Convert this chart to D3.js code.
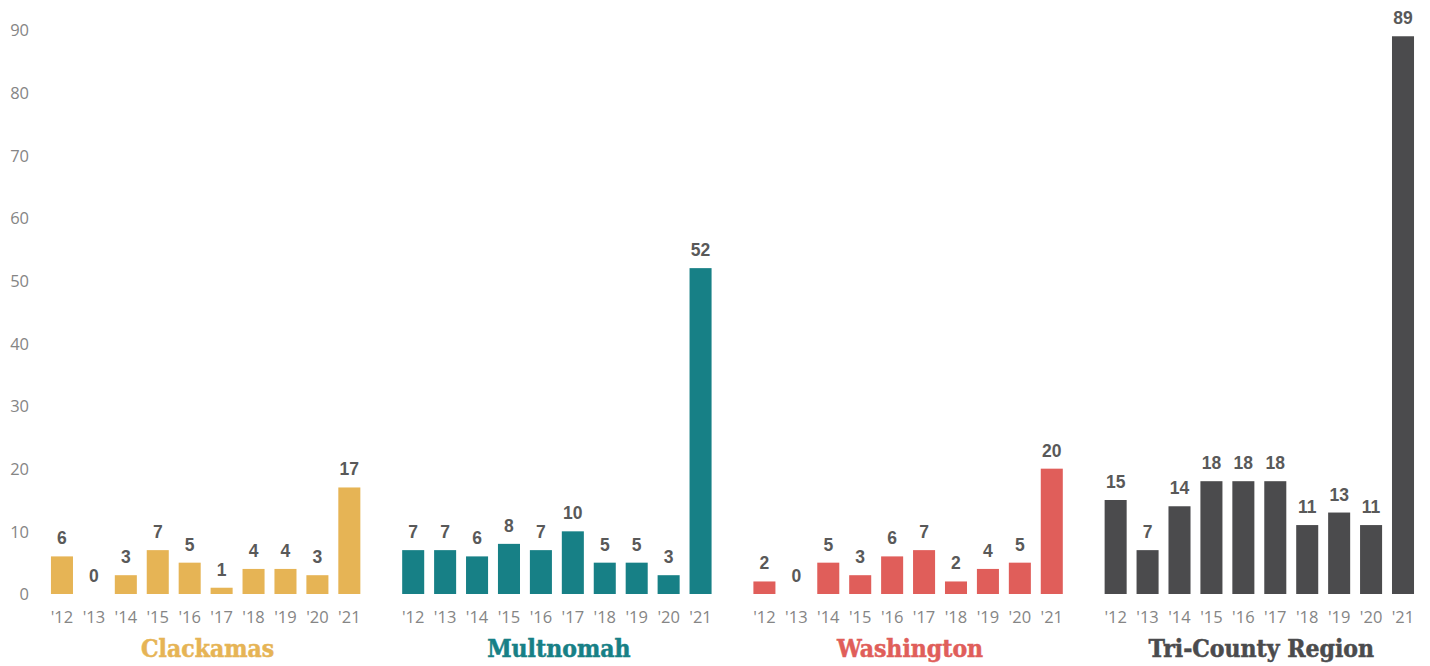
<!DOCTYPE html>
<html><head><meta charset="utf-8">
<script src="https://cdn.jsdelivr.net/npm/d3@7"></script>
<style>body{margin:0;background:#fff}svg{display:block}</style>
</head><body><svg id="c" width="1430" height="666"></svg>
<script>
const groups = ["Clackamas", "Multnomah", "Washington", "Tri-County Region"];
const years = ["'12","'13","'14","'15","'16","'17","'18","'19","'20","'21"];
const clackamas = [6,0,3,7,5,1,4,4,3,17];
const multnomah = [7,7,6,8,7,10,5,5,3,52];
const washington = [2,0,5,3,6,7,2,4,5,20];
const triCounty = [15,7,14,18,18,18,11,13,11,89];
const yTicks = [0,10,20,30,40,50,60,70,80,90];
const colors = ["#E6B455", "#178086", "#E05E5A", "#4B4B4D"];
const seriesValues = [clackamas, multnomah, washington, triCounty];

const svg = d3.select("#c");
const y = d3.scaleLinear().domain([0,90]).range([594,30]);
const gx = d3.scaleBand().domain(groups).range([46, 1450.9]).paddingInner(0).paddingOuter(0);
const ix = d3.scaleBand().domain(years).range([0, gx.bandwidth()*10/11]).paddingInner(0.31).paddingOuter(0.155);

// y axis
const yAxis = d3.axisLeft(y).tickValues(yTicks).tickSize(0).tickPadding(0);
const ya = svg.append("g").attr("transform","translate(29,0)").call(yAxis);
ya.select(".domain").remove();
ya.selectAll("text").attr("fill","#858585").attr("dy","0.36em").style("font-family","'Open Sans'").style("font-size","16.5px");

groups.forEach((g,gi)=>{
  const vals = seriesValues[gi];
  const grp = svg.append("g").attr("transform",`translate(${gx(g)},0)`);
  const data = years.map((yr,i)=>({yr, v: vals[i]}));
  grp.selectAll("rect").data(data).join("rect")
    .attr("x", d=>ix(d.yr)).attr("width", ix.bandwidth())
    .attr("y", d=>y(d.v)).attr("height", d=>y(0)-y(d.v))
    .attr("fill", colors[gi]);
  grp.selectAll("text.lbl").data(data).join("text").attr("class","lbl")
    .attr("x", d=>ix(d.yr)+ix.bandwidth()/2).attr("y", d=>y(d.v)-12)
    .attr("text-anchor","middle")
    .attr("fill","#595959")
    .style("font-family","'Liberation Sans', Arial, sans-serif").style("font-weight","bold").style("font-size","17.5px")
    .text(d=>d.v);
  const xa = grp.append("g").attr("transform","translate(0,611)").call(d3.axisBottom(ix).tickSize(0).tickPadding(0));
  xa.select(".domain").remove();
  xa.selectAll("text").attr("fill","#858585").attr("dy","0.72em").style("font-family","'Open Sans'").style("font-size","16.5px");
  grp.append("text")
    .attr("x", ix(years[0]) + (ix(years[9])+ix.bandwidth()-ix(years[0]))/2 + 2)
    .attr("y", 657)
    .attr("text-anchor","middle")
    .attr("fill", colors[gi])
    .attr("stroke", colors[gi]).attr("stroke-width", 0.5)
    .style("font-family","'DejaVu Serif Condensed','DejaVu Serif', serif").style("font-weight","bold").style("font-size","24.5px")
    .text(g);
});
</script></body></html>
